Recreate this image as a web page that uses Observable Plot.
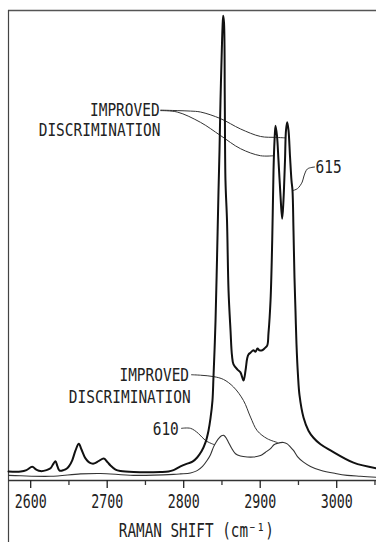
<!DOCTYPE html>
<html><head><meta charset="utf-8">
<script src="https://cdn.jsdelivr.net/npm/d3@7"></script>
<script src="https://cdn.jsdelivr.net/npm/@observablehq/plot@0.6"></script>
<style>
html,body{margin:0;padding:0;background:#fff;}
#chart{width:376px;height:542px;overflow:hidden;}
</style></head><body><div id="chart"></div>
<script>
// Axis ticks (Raman shift, cm^-1)
const majorTicks = [2600, 2700, 2800, 2900, 3000];
const minorTicks = [2650, 2750, 2850, 2950, 3050];
const xTitle = "RAMAN SHIFT (cm\u207B\u00B9)";

// Spectrum 615 (thick): [raman shift, intensity]
const spectrum615 = [
  [2571,1.9],[2587,1.9],[2594.5,2.2],[2602,2.9],[2607.6,2.3],[2612.8,2.0],[2620.7,2.2],[2625.9,2.6],
  [2629.8,3.6],[2632.4,4.1],[2635,3.0],[2637.7,2.1],[2642.9,2.2],[2647.7,2.6],[2650.7,3.2],[2654.3,4.3],
  [2658.6,6.4],[2662.9,7.8],[2666.4,6.6],[2671.6,4.7],[2676.9,3.8],[2682.5,3.6],[2688.6,4.1],[2695.6,4.7],
  [2700.4,3.9],[2704.3,3.2],[2710.9,2.3],[2717.4,2.0],[2734.4,1.8],[2769.7,1.8],[2780.1,1.9],[2786.7,2.2],
  [2795.8,3.0],[2804.6,3.6],[2811.5,4.0],[2817.6,4.9],[2823.3,6.2],[2828.5,8.1],[2832.4,10.6],[2835,13.2],
  [2837.6,17.0],[2838.9,21.9],[2840.3,27.7],[2841.6,34.0],[2843.5,46.8],[2845.5,61.7],[2846.8,70.2],
  [2848.1,80.9],[2849.8,91.5],[2850.7,96.2],[2851.6,98.9],[2852.7,97.4],[2853.7,80.9],[2854.6,63.8],
  [2856.6,55.3],[2858.6,40.4],[2861.2,31.9],[2863.1,26.6],[2865.1,24.7],[2870.3,23.6],[2874.2,23.0],
  [2878.2,21.3],[2880.8,23.4],[2883,26.0],[2884.7,26.8],[2887.3,27.2],[2891.2,27.7],[2893.8,27.4],
  [2896.5,28.1],[2899.1,27.7],[2902.6,27.7],[2905.6,28.1],[2909.1,28.7],[2910.8,31.3],[2913.5,38.3],
  [2915.7,51.1],[2917.4,66.0],[2918.7,72.3],[2920,75.5],[2921.9,73.4],[2923.9,68.1],[2926.5,60.6],
  [2928.7,55.7],[2930.4,59.6],[2932.4,68.1],[2933.7,74.5],[2935.3,76.2],[2937,74.5],[2938.9,69.1],
  [2940.9,63.8],[2942.2,61.7],[2943.5,53.2],[2944.8,43.2],[2946.1,36.2],[2947.4,29.1],[2949.4,22.3],
  [2951.4,18.1],[2956.6,13.4],[2963.1,10.6],[2969.6,9.1],[2978.8,7.7],[2991.9,6.4],[3021.9,3.8],[3052,2.6]
];

// Spectrum 610 (thin): [raman shift, intensity]
const spectrum610 = [
  [2571,1.1],[2587,1.0],[2625.9,0.9],[2665.1,1.4],[2691.2,1.5],[2734.4,1.1],[2786.7,1.3],[2795.8,1.4],
  [2808.9,1.6],[2817.6,2.1],[2824.6,3.0],[2830.7,4.3],[2835,5.5],[2838.9,7.1],[2842.9,8.3],[2845.5,8.9],
  [2849.4,9.5],[2852.4,9.6],[2855.3,9.1],[2858.6,8.1],[2862.5,6.9],[2867.7,5.7],[2874.2,5.2],[2883,5.0],
  [2891.2,5.0],[2900.4,5.3],[2906.9,6.0],[2913.5,6.8],[2918,7.6],[2922.2,7.9],[2930.4,8.1],[2935.3,7.8],
  [2939.6,7.1],[2943.5,6.4],[2948.7,5.1],[2956.6,3.9],[2965.7,3.0],[2978.8,2.2],[2998.4,1.5],[3013.7,1.1],
  [3031.1,0.9],[3052,0.7]
];

// Annotation leader lines: [raman shift, intensity]
const leaderTopUpper = [[2770,78.8],[2791.5,78.7],[2808.9,78.6],[2822,78.4],[2848.1,77.0],[2874.2,74.8],[2900.4,73.2],[2920,73.0],[2933.1,72.9]];
const leaderTopLower = [[2770,78.7],[2791.5,78.4],[2822,76.2],[2848.1,73.4],[2874.2,70.6],[2900.4,69.1],[2917.8,69.1]];
const leaderLow = [[2810.2,22.5],[2822,22.4],[2839.3,22.1],[2852,21.5],[2865.1,19.9],[2878.2,17.0],[2887.3,13.5],[2896.1,10.6],[2909.1,8.9],[2922.2,8.1]];
const leader610 = [[2797.1,11.1],[2808.9,11.1],[2819.3,10.0],[2828.5,8.5],[2840.3,7.6]];
const leader615 = [[2971,66.7],[2961.8,66.3],[2957.2,64.8],[2954.9,63.5],[2948.7,62.1],[2942.9,61.7]];

// Labels
const labelText = ["IMPROVED", "DISCRIMINATION", "IMPROVED", "DISCRIMINATION", "610", "615"];
const labelShift = [2768.5, 2769.7, 2807, 2809, 2793.6, 2972.3];
const labelIntensity = [78.8, 74.6, 22.3, 17.8, 10.9, 66.7];
const labelAnchor = ["end", "end", "end", "end", "end", "start"];

const toRows = arr => arr.map(([wn, v]) => ({wn, v}));
const leaders = [leaderTopUpper, leaderTopLower, leaderLow, leader610, leader615];
const labels = labelText.map((t, k) => ({t, wn: labelShift[k], v: labelIntensity[k], a: labelAnchor[k]}));

const font = "DejaVu Sans Mono";
const txt = {textAnchor: "start", lineAnchor: "middle", fontFamily: font, fill: "#222"};
const chart = Plot.plot({
  width: 376, height: 542,
  marginLeft: 8, marginRight: 0, marginTop: 10, marginBottom: 62,
  style: {background: "#fff", fontFamily: font},
  x: {domain: [2571, 3052], axis: null},
  y: {domain: [0, 100], axis: null},
  marks: [
    Plot.ruleY([100], {stroke: "#555", strokeWidth: 1.6}),
    Plot.ruleX([2571], {y1: -14, y2: 100, stroke: "#444", strokeWidth: 1.2}),
    Plot.ruleY([0], {stroke: "#333", strokeWidth: 1.3}),
    Plot.axisX({ticks: minorTicks, tickSize: 5, tickFormat: () => "", label: null, color: "#333", strokeWidth: 1.3}),
    Plot.axisX({ticks: majorTicks, tickSize: 8, tickPadding: 6, tickFormat: d => String(d), label: null,
      color: "#222", strokeWidth: 1.3, fontSize: 19, fontFamily: font}),
    Plot.line(toRows(spectrum610), {x: "wn", y: "v", curve: "catmull-rom", stroke: "#333", strokeWidth: 1.1}),
    ...leaders.map(l => Plot.line(toRows(l), {x: "wn", y: "v", curve: "catmull-rom", stroke: "#333", strokeWidth: 1})),
    Plot.line(toRows(spectrum615), {x: "wn", y: "v", curve: "catmull-rom", stroke: "#111", strokeWidth: 2}),
    Plot.text(labels.filter(d => d.a === "end"), {...txt, x: "wn", y: "v", text: "t", textAnchor: "end", fontSize: 18}),
    Plot.text(labels.filter(d => d.a === "start"), {...txt, x: "wn", y: "v", text: "t", fontSize: 18}),
    Plot.text([xTitle], {...txt, x: 2715.2, y: -10.8, text: d => d, fontSize: 19})
  ]
});
document.getElementById("chart").appendChild(chart);

// Condensed lettering like the original drawing
d3.select(chart).selectAll("text").each(function() {
  const t = this.textContent;
  if (!t) return;
  let w;
  if (t === xTitle) w = 155;
  else if (/^\d{4}$/.test(t)) w = t.length * 8;
  else w = t.length * 8.7;
  d3.select(this).attr("textLength", w).attr("lengthAdjust", "spacingAndGlyphs");
});
</script></body></html>
